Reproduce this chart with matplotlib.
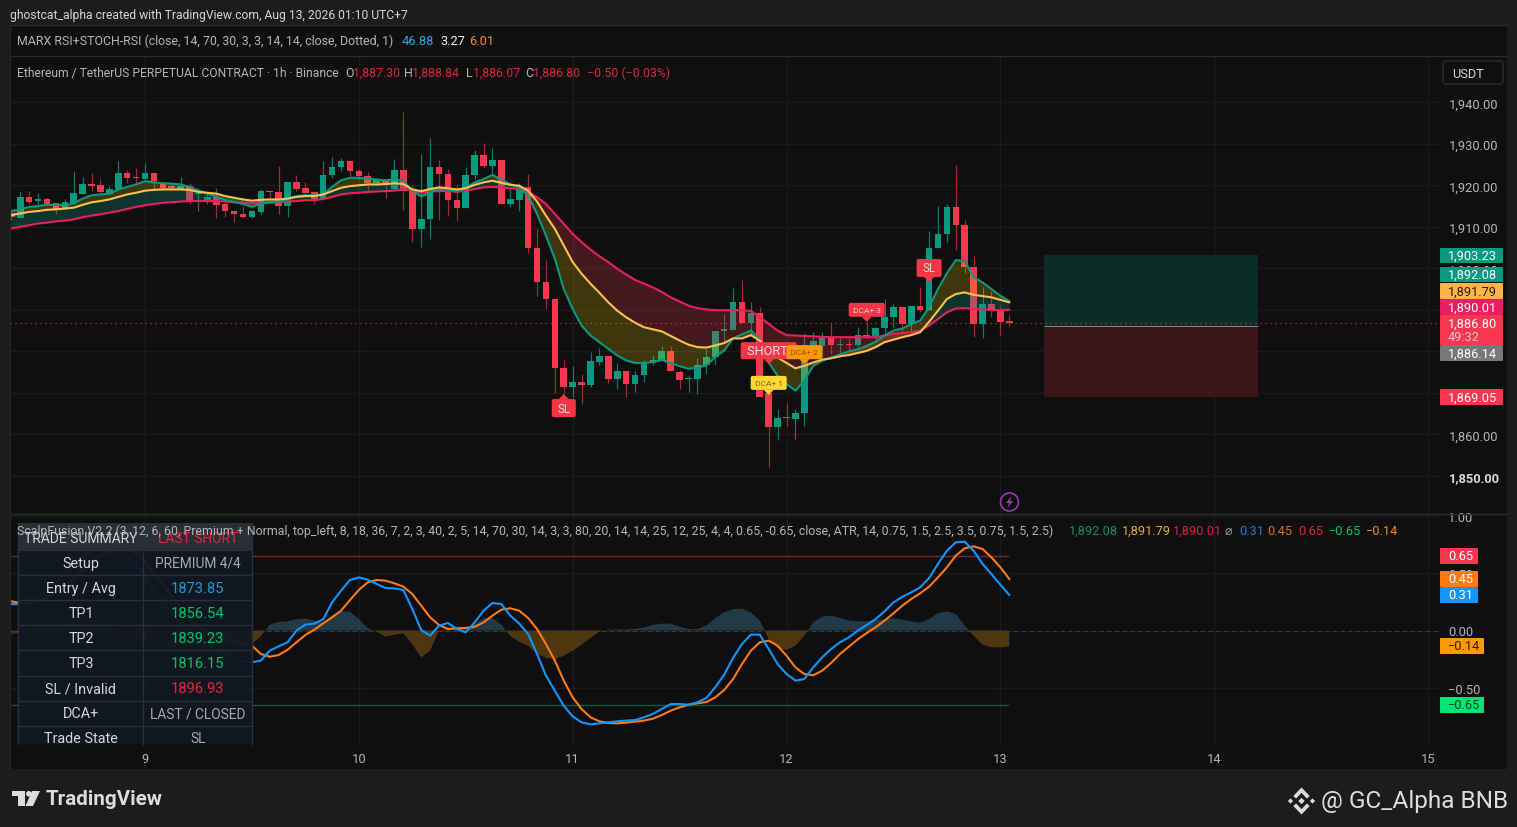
import matplotlib
matplotlib.use('Agg')
import matplotlib.pyplot as plt
from matplotlib.patches import Rectangle, Polygon, Circle, FancyBboxPatch
import numpy as np

plt.rcParams['font.family'] = ['Roboto', 'DejaVu Sans']

# hourly candles, first one is 15 hours before the "9" tick
opens = [1913.4, 1912.2, 1917.2, 1916.1, 1916.7, 1915.7, 1914.6, 1915.7, 1918.0, 1920.4,
         1920.0, 1918.0, 1919.0, 1923.0, 1922.0, 1921.5, 1923.0, 1920.4, 1919.8, 1919.2,
         1919.8, 1918.0, 1916.4, 1917.2, 1915.4, 1913.9, 1913.0, 1912.3, 1913.6, 1918.6,
         1918.4, 1914.9, 1920.9, 1919.4, 1918.4, 1916.8, 1922.6, 1924.3, 1925.8, 1923.4,
         1922.2, 1920.6, 1921.2, 1919.2, 1923.8, 1919.0, 1909.5, 1911.9, 1924.5, 1922.8,
         1916.4, 1914.6, 1922.5, 1927.2, 1924.6, 1926.0, 1915.4, 1916.5, 1919.5, 1904.9,
         1896.6, 1892.6, 1875.9, 1871.3, 1872.7, 1871.8, 1877.4, 1878.8, 1873.3, 1875.3,
         1872.2, 1874.2, 1877.2, 1877.8, 1880.1, 1875.1, 1873.3, 1873.3, 1876.8, 1878.6,
         1884.8, 1885.1, 1892.0, 1886.8, 1889.2, 1870.0, 1861.8, 1864.1, 1863.7, 1865.1,
         1881.3, 1881.3, 1883.3, 1881.6, 1881.8, 1881.5, 1883.9, 1883.6, 1885.7, 1888.3,
         1890.7, 1886.6, 1890.8, 1889.9, 1905.0, 1908.2, 1914.7, 1910.4, 1900.2, 1886.6,
         1891.5, 1889.8, 1887.3]
closes = [1912.4, 1917.2, 1916.0, 1916.7, 1915.4, 1914.4, 1916.0, 1918.1, 1920.3, 1919.9,
          1918.4, 1919.2, 1923.0, 1921.8, 1921.8, 1923.0, 1921.0, 1919.4, 1919.4, 1919.8,
          1916.0, 1918.2, 1917.2, 1915.3, 1913.8, 1913.0, 1912.3, 1913.7, 1918.6, 1918.3,
          1914.9, 1920.9, 1919.2, 1918.2, 1916.6, 1922.6, 1924.4, 1925.8, 1923.4, 1922.2,
          1920.6, 1921.2, 1920.0, 1923.8, 1918.7, 1909.5, 1911.9, 1924.5, 1922.8, 1916.4,
          1914.6, 1922.5, 1927.2, 1924.6, 1926.0, 1915.4, 1916.7, 1919.0, 1904.9, 1896.6,
          1892.5, 1875.9, 1871.3, 1872.7, 1871.8, 1877.7, 1878.8, 1873.3, 1875.3, 1872.2,
          1874.2, 1877.2, 1877.8, 1880.1, 1875.2, 1873.2, 1873.5, 1876.8, 1878.6, 1884.8,
          1885.4, 1892.0, 1886.8, 1889.2, 1869.0, 1861.8, 1863.9, 1863.9, 1865.1, 1881.5,
          1882.5, 1883.3, 1881.5, 1881.8, 1881.6, 1883.9, 1883.6, 1885.7, 1888.3, 1890.7,
          1886.6, 1890.8, 1889.9, 1905.0, 1908.2, 1914.7, 1910.4, 1900.2, 1886.6, 1891.5,
          1889.6, 1887.1, 1886.8]
highs = [1914.0, 1918.4, 1918.7, 1918.2, 1917.0, 1915.8, 1916.8, 1923.4, 1922.0, 1923.0,
         1921.6, 1919.8, 1925.8, 1923.8, 1924.2, 1925.4, 1923.0, 1920.6, 1920.4, 1922.0,
         1920.6, 1918.4, 1917.8, 1919.4, 1915.6, 1913.9, 1915.0, 1914.0, 1919.0, 1918.7,
         1924.6, 1920.9, 1922.5, 1920.9, 1918.6, 1925.9, 1926.7, 1926.6, 1926.2, 1924.0,
         1923.2, 1921.8, 1921.4, 1926.4, 1937.6, 1920.0, 1927.6, 1931.3, 1926.1, 1923.9,
         1920.1, 1924.3, 1928.5, 1930.1, 1928.9, 1926.4, 1919.0, 1920.6, 1922.7, 1909.7,
         1902.0, 1892.6, 1877.8, 1876.4, 1874.5, 1879.8, 1880.8, 1878.8, 1877.2, 1875.3,
         1875.2, 1878.0, 1879.0, 1881.2, 1881.2, 1875.4, 1874.2, 1878.4, 1880.6, 1884.8,
         1888.9, 1895.2, 1897.2, 1892.0, 1890.7, 1873.0, 1866.1, 1867.5, 1866.1, 1884.5,
         1884.7, 1884.7, 1886.8, 1883.8, 1883.1, 1885.9, 1887.0, 1885.9, 1892.7, 1891.5,
         1890.7, 1890.8, 1895.4, 1908.9, 1914.9, 1915.5, 1924.8, 1911.6, 1902.9, 1895.5,
         1894.6, 1891.0, 1888.84]
lows = [1911.6, 1912.2, 1915.4, 1915.4, 1915.2, 1913.2, 1914.4, 1915.4, 1918.0, 1918.6,
        1917.9, 1917.9, 1919.0, 1920.6, 1920.6, 1921.5, 1919.0, 1919.2, 1919.0, 1919.0,
        1915.6, 1913.8, 1915.4, 1912.2, 1912.4, 1911.1, 1912.2, 1912.2, 1913.2, 1917.0,
        1913.0, 1912.3, 1918.6, 1917.4, 1915.6, 1916.8, 1921.8, 1923.5, 1921.6, 1921.6,
        1918.4, 1920.0, 1917.0, 1919.2, 1914.1, 1906.4, 1905.1, 1907.0, 1911.7, 1912.5,
        1911.5, 1914.6, 1921.5, 1924.1, 1922.7, 1915.4, 1914.7, 1913.7, 1903.7, 1893.3,
        1890.1, 1870.0, 1869.8, 1869.0, 1867.2, 1871.4, 1876.8, 1872.4, 1871.0, 1869.1,
        1870.3, 1872.5, 1876.6, 1877.8, 1875.2, 1871.0, 1870.3, 1869.7, 1874.6, 1876.6,
        1882.2, 1885.1, 1886.8, 1883.8, 1869.0, 1852.2, 1858.7, 1861.9, 1858.9, 1862.0,
        1879.0, 1878.9, 1879.3, 1879.0, 1879.9, 1880.5, 1883.1, 1882.3, 1884.3, 1885.8,
        1884.6, 1884.6, 1889.4, 1889.9, 1905.0, 1906.4, 1904.5, 1898.8, 1883.5, 1883.2,
        1888.2, 1884.0, 1886.07]

ema_fast = [1913.8, 1914.2, 1914.8, 1915.0, 1915.3, 1915.3, 1915.2, 1915.6, 1916.8, 1917.6,
            1917.8, 1918.0, 1919.0, 1919.6, 1920.2, 1921.0, 1920.7, 1920.5, 1920.4, 1920.2,
            1919.6, 1918.8, 1918.0, 1917.2, 1916.4, 1916.0, 1915.5, 1914.8, 1915.6, 1916.0,
            1916.0, 1916.8, 1917.4, 1917.6, 1917.6, 1917.8, 1919.6, 1921.2, 1921.8, 1921.8,
            1921.6, 1921.4, 1921.2, 1921.4, 1921.1, 1918.7, 1917.3, 1918.3, 1919.1, 1918.9,
            1918.6, 1919.3, 1920.7, 1921.5, 1922.5, 1921.3, 1920.3, 1919.5, 1917.5, 1913.1,
            1907.9, 1902.3, 1895.0, 1890.2, 1886.2, 1883.8, 1882.2, 1880.6, 1879.0, 1877.8,
            1877.2, 1877.2, 1877.4, 1877.9, 1877.2, 1876.4, 1875.8, 1876.1, 1876.6, 1878.6,
            1880.2, 1883.1, 1884.1, 1885.0, 1882.8, 1877.3, 1874.1, 1872.1, 1870.5, 1873.0,
            1876.5, 1877.7, 1878.5, 1879.2, 1880.0, 1880.5, 1881.3, 1882.3, 1883.8, 1885.0,
            1885.5, 1886.6, 1887.4, 1890.6, 1895.0, 1898.8, 1902.0, 1901.7, 1897.8, 1896.6,
            1895.0, 1893.4, 1892.08]
ema_mid = [1912.8, 1913.2, 1913.6, 1913.8, 1914.1, 1914.2, 1914.4, 1914.6, 1915.3, 1915.9,
           1916.2, 1916.6, 1917.2, 1917.8, 1918.2, 1918.7, 1918.9, 1919.0, 1919.0, 1919.0,
           1918.9, 1918.4, 1918.2, 1918.0, 1917.4, 1917.0, 1916.6, 1916.3, 1916.5, 1916.6,
           1916.6, 1916.8, 1917.2, 1917.4, 1917.4, 1917.8, 1918.6, 1919.4, 1919.8, 1920.0,
           1920.2, 1920.2, 1920.3, 1920.5, 1920.3, 1919.0, 1918.6, 1919.1, 1919.5, 1919.3,
           1919.0, 1919.3, 1920.1, 1920.7, 1921.1, 1920.6, 1920.1, 1919.9, 1918.7, 1916.1,
           1912.7, 1909.5, 1905.5, 1901.5, 1898.7, 1896.3, 1894.1, 1891.8, 1889.8, 1888.2,
           1886.9, 1885.8, 1885.3, 1884.8, 1883.7, 1882.6, 1881.6, 1881.0, 1880.9, 1881.4,
           1882.0, 1883.1, 1883.1, 1883.9, 1882.6, 1879.7, 1878.5, 1877.2, 1875.9, 1876.5,
           1877.3, 1878.0, 1878.3, 1878.8, 1879.1, 1879.6, 1880.1, 1881.0, 1882.2, 1882.8,
           1883.4, 1883.9, 1884.6, 1887.1, 1889.8, 1892.6, 1893.8, 1894.2, 1893.6, 1893.3,
           1893.0, 1892.4, 1891.79]
ema_slow = [1909.6, 1910.0, 1910.4, 1910.8, 1911.0, 1911.3, 1911.5, 1911.8, 1912.3, 1912.7,
            1913.0, 1913.4, 1913.8, 1914.3, 1914.8, 1915.2, 1915.5, 1915.8, 1915.9, 1916.1,
            1916.2, 1916.2, 1916.2, 1916.2, 1916.1, 1915.9, 1915.8, 1915.6, 1915.7, 1915.8,
            1916.0, 1916.1, 1916.2, 1916.4, 1916.4, 1916.7, 1917.2, 1917.8, 1918.1, 1918.2,
            1918.4, 1918.5, 1918.6, 1918.7, 1919.1, 1918.7, 1918.3, 1918.5, 1918.6, 1918.6,
            1918.4, 1918.7, 1919.1, 1919.5, 1919.6, 1919.5, 1919.3, 1919.1, 1918.5, 1917.1,
            1915.5, 1913.1, 1910.7, 1908.3, 1906.3, 1904.5, 1902.9, 1901.5, 1899.9, 1898.5,
            1897.2, 1896.3, 1895.4, 1894.3, 1893.0, 1892.0, 1891.0, 1890.4, 1890.1, 1889.9,
            1889.9, 1889.9, 1889.9, 1889.7, 1888.2, 1886.6, 1885.0, 1883.9, 1883.8, 1883.7,
            1883.6, 1883.5, 1883.4, 1883.4, 1883.4, 1883.4, 1883.4, 1883.4, 1883.8, 1884.2,
            1884.4, 1884.6, 1885.0, 1886.2, 1887.8, 1889.4, 1890.3, 1890.4, 1890.2, 1890.1,
            1890.0, 1889.9, 1890.01]

# oscillator pane (values for the first 28 hours sit behind the table, rough guess)
osc_blue = [0.23, 0.23, 0.26, 0.30, 0.35, 0.42, 0.50, 0.58, 0.65, 0.70,
            0.72, 0.72, 0.70, 0.65, 0.58, 0.48, 0.35, 0.25, 0.15, 0.05,
            -0.03, -0.08, -0.12, -0.16, -0.20, -0.24, -0.27, -0.278,
            -0.263, -0.176, -0.138, -0.103, -0.001, 0.051, 0.06, 0.098, 0.246, 0.348,
            0.441, 0.464, 0.444, 0.406, 0.371, 0.368, 0.354, 0.188, 0.004, -0.045,
            0.042, 0.066, 0.013, -0.016, 0.071, 0.173, 0.24, 0.231, 0.13, 0.06,
            -0.03, -0.205, -0.394, -0.526, -0.657, -0.75, -0.802, -0.82, -0.811, -0.802,
            -0.793, -0.787, -0.782, -0.758, -0.729, -0.686, -0.642, -0.642, -0.648, -0.627,
            -0.589, -0.496, -0.386, -0.24, -0.118, -0.036, -0.036, -0.162, -0.293, -0.38,
            -0.438, -0.424, -0.322, -0.234, -0.162, -0.103, -0.06, -0.001, 0.048, 0.1,
            0.167, 0.246, 0.295, 0.333, 0.377, 0.458, 0.581, 0.697, 0.77, 0.776,
            0.697, 0.581, 0.493, 0.4, 0.31]
osc_orange = [0.255, 0.24, 0.24, 0.26, 0.29, 0.33, 0.39, 0.46, 0.53, 0.60,
              0.65, 0.69, 0.71, 0.71, 0.67, 0.60, 0.50, 0.40, 0.30, 0.20,
              0.10, 0.03, -0.02, -0.05, -0.08, -0.10, -0.12, -0.133,
              -0.205, -0.229, -0.214, -0.168, -0.103, -0.039, 0.007, 0.063, 0.115, 0.173,
              0.266, 0.354, 0.421, 0.441, 0.435, 0.412, 0.383, 0.319, 0.217, 0.115,
              0.048, 0.013, 0.019, 0.022, 0.033, 0.071, 0.13, 0.182, 0.194, 0.173,
              0.109, 0.013, -0.118, -0.263, -0.438, -0.584, -0.686, -0.758, -0.793, -0.808,
              -0.811, -0.805, -0.796, -0.787, -0.77, -0.738, -0.7, -0.671, -0.648, -0.636,
              -0.625, -0.584, -0.52, -0.424, -0.293, -0.176, -0.103, -0.089, -0.133, -0.22,
              -0.322, -0.38, -0.391, -0.351, -0.284, -0.205, -0.141, -0.077, -0.022, 0.028,
              0.086, 0.15, 0.217, 0.275, 0.325, 0.383, 0.464, 0.552, 0.654, 0.718,
              0.735, 0.712, 0.639, 0.552, 0.45]
osc_hist = [-0.03, -0.02, 0.02, 0.04, 0.06, 0.09, 0.11, 0.12, 0.12, 0.10,
            0.07, 0.03, -0.01, -0.06, -0.09, -0.12, -0.15, -0.15, -0.15, -0.15,
            -0.13, -0.11, -0.10, -0.11, -0.12, -0.14, -0.14, -0.12,
            -0.05, 0.05, 0.075, 0.08, 0.098, 0.105, 0.085, 0.07, 0.135, 0.165,
            0.165, 0.1, 0.02, -0.01, -0.054, -0.036, -0.025, -0.12, -0.235, -0.176,
            0.0, 0.01, 0.015, 0.027, 0.05, 0.11, 0.11, 0.05, -0.05, -0.1,
            -0.133, -0.205, -0.24, -0.249, -0.22, -0.176, -0.124, -0.066, -0.008, 0.007,
            0.01, 0.01, 0.013, 0.027, 0.048, 0.06, 0.06, 0.033, 0.013, 0.013,
            0.042, 0.109, 0.158, 0.187, 0.19, 0.158, 0.086, -0.074, -0.147, -0.17,
            -0.133, -0.045, 0.071, 0.121, 0.13, 0.109, 0.086, 0.08, 0.08, 0.091,
            0.1, 0.106, 0.095, 0.08, 0.068, 0.1, 0.153, 0.167, 0.144, 0.042,
            -0.045, -0.124, -0.147, -0.147, -0.14]

day_labels = ['9', '10', '11', '12', '13', '14', '15']
price_ticks = [1850, 1860, 1870, 1880, 1890, 1900, 1910, 1920, 1930, 1940]
osc_ticks = [1.0, 0.5, 0.0, -0.5]
osc_tick_labels = ['1.00', '0.50', '0.00', '\u22120.50']

last_price = 1886.80
entry_price = 1886.14
target_price = 1903.23
stop_price = 1869.05
box_hours = [100.95, 124.95]
osc_upper = 0.65
osc_lower = -0.65

# signal labels on the chart
signal_texts = ['SL', 'SL', 'SHORT \u2605', 'DCA+ 1', 'DCA+ 2', 'DCA+ 3']
signal_hours = [47, 88, 70, 70, 74, 81]
signal_prices = [1869.7, 1896.7, 1876.9, 1869.5, 1876.9, 1887.1]

# table rows
table_labels = ['Setup', 'Entry / Avg', 'TP1', 'TP2', 'TP3', 'SL / Invalid', 'DCA+', 'Trade State']
table_values = ['PREMIUM 4/4', '1873.85', '1856.54', '1839.23', '1816.15', '1896.93', 'LAST / CLOSED', 'SL']
table_colors = ['#a6a9b0', '#1f9ad6', '#00c46a', '#00c46a', '#00c46a', '#e0263c', '#a6a9b0', '#a6a9b0']

BG = '#0f0f0f'
FRAME = '#1c1c1c'
SEP = '#2c2c2c'
GRID = '#1b1b1b'
TEXT = '#b4b5b8'
UP = '#089981'
DOWN = '#f7374f'
W, H = 1517, 828

hours = np.arange(-15, -15 + len(opens))
o, c, hi, lo = map(np.array, (opens, closes, highs, lows))
fast, mid, slow = map(np.array, (ema_fast, ema_mid, ema_slow))

fig = plt.figure(figsize=(W / 100, H / 100), dpi=100, facecolor=FRAME)


def pane(x0, x1, y_top, y_bottom, z):
    return fig.add_axes([x0 / W, 1 - y_bottom / H, (x1 - x0) / W, (y_bottom - y_top) / H],
                        facecolor=BG, zorder=z)


# panel background incl. right scale
back = pane(10, 1507, 26, 770, 0)
back.set_xticks([])
back.set_yticks([])
for s in back.spines.values():
    s.set_visible(False)

px_per_hour = 8.91
x_lim = ((10 - 145) / px_per_hour, (1440 - 145) / px_per_hour)
day_ticks = [24 * i for i in range(len(day_labels))]
box_span = [(b - x_lim[0]) / (x_lim[1] - x_lim[0]) for b in box_hours]

# price pane
ax = pane(10, 1440, 58, 515, 2)
ax.set_xlim(x_lim)
ax.set_ylim(1940 - 411.7 / 4.15, 1940 + 45.3 / 4.15)
ax.grid(True, color=GRID, lw=1)
ax.set_axisbelow(True)
ax.set_xticks(day_ticks)
ax.set_xticklabels([])
ax.set_yticks(price_ticks)
ax.set_yticklabels([f'{p:,.2f}' for p in price_ticks])
ax.yaxis.tick_right()
ax.tick_params(length=0, colors=TEXT, labelsize=9.3, pad=6.5)
for t in ax.get_yticklabels():
    t.set_verticalalignment('center_baseline')
ax.get_yticklabels()[0].set_color('#d8d9dc')
ax.get_yticklabels()[0].set_fontweight('bold')
for s in ax.spines.values():
    s.set_visible(False)

ax.axhspan(entry_price, target_price, xmin=box_span[0], xmax=box_span[1], color='#0e2c27', lw=0, zorder=1)
ax.axhspan(stop_price, entry_price, xmin=box_span[0], xmax=box_span[1], color='#3a1519', lw=0, zorder=1)
ax.hlines(entry_price, box_hours[0], box_hours[1], color='#8a8a8a', lw=0.7, zorder=1.5)
ax.axhline(last_price, color=DOWN, lw=0.9, ls=(0, (1, 3)), alpha=0.8, zorder=1.6)

is_up = c >= o
wick_colors = np.where(is_up, '#0b7f6d', '#a32a3c')
ax.vlines(hours, lo, hi, colors=wick_colors, lw=0.85, zorder=2)
ax.bar(hours, np.abs(c - o), bottom=np.minimum(o, c), width=0.74,
       color=np.where(is_up, UP, DOWN), lw=0, zorder=2.2)

ax.fill_between(hours, fast, mid, color='#ffd600', alpha=0.2, lw=0, zorder=3)
ax.fill_between(hours, mid, slow, where=mid >= slow, interpolate=True, color='#089981', alpha=0.28, lw=0, zorder=3)
ax.fill_between(hours, mid, slow, where=mid <= slow, interpolate=True, color='#f23645', alpha=0.24, lw=0, zorder=3)
ax.plot(hours, slow, color='#e91e63', lw=1.5, zorder=4)
ax.plot(hours, fast, color='#089981', lw=1.5, zorder=4)
ax.plot(hours, mid, color='#fbc04e', lw=1.5, zorder=4)

# oscillator pane
ax2 = pane(10, 1440, 516, 745, 1)
ax2.set_xlim(x_lim)
ax2.set_ylim(-113.5 / 114.5, 115.5 / 114.5)
ax2.grid(True, color=GRID, lw=1)
ax2.set_axisbelow(True)
ax2.set_xticks(day_ticks)
ax2.set_xticklabels(day_labels)
ax2.set_yticks(osc_ticks)
ax2.set_yticklabels(osc_tick_labels)
ax2.yaxis.tick_right()
ax2.tick_params(length=0, colors=TEXT, labelsize=9.3)
ax2.tick_params(axis='y', pad=6)
ax2.tick_params(axis='x', pad=5.5)
for s in ax2.spines.values():
    s.set_visible(False)

hist = np.array(osc_hist)
ax2.fill_between(hours, 0, hist, where=hist >= 0, interpolate=True, color='#2b4a5e', alpha=0.72, lw=0)
ax2.fill_between(hours, 0, hist, where=hist <= 0, interpolate=True, color='#5a3d12', alpha=0.85, lw=0)
ax2.axhline(0, color='#3a3a3a', lw=0.8, ls=(0, (4, 3)))
ax2.hlines(osc_upper, hours[0], hours[-1], color='#7a2430', lw=1)
ax2.hlines(osc_lower, hours[0], hours[-1], color='#12583f', lw=1)
ax2.plot(hours, osc_orange, color='#ff7a10', lw=1.5)
ax2.plot(hours, osc_blue, color='#1196ff', lw=1.5)

# overlay in picture pixels: legends, table, price boxes, logos
ov = fig.add_axes([0, 0, 1, 1], facecolor='none', zorder=10)
ov.set_xlim(0, W)
ov.set_ylim(H, 0)
ov.axis('off')


def label(x, y, s, color=TEXT, size=9.2, ha='left', **kw):
    ov.text(x, y + 0.7, s, color=color, fontsize=size, ha=ha, va='center', **kw)


def price_box(y0, y1, x1, s, color, tcolor='#ffffff', x0=1440):
    ov.add_patch(FancyBboxPatch((x0 + 1, y0 + 1), x1 - x0 - 2, y1 - y0 - 2, boxstyle='round,pad=1,rounding_size=1',
                                fc=color, ec='none'))
    if s:
        label(x0 + 8, (y0 + y1) / 2 - 0.7, s, tcolor)


# boxes keep to the tip of each signal, taken through the price pane's scale
signal_fill = ['#f23645', '#f23645', '#f23645', '#ffd633', '#ff9800', '#f23645']
signal_ink = ['#ffd9dd', '#ffd9dd', '#ffe3e6', '#7a6a20', '#8a5a10', '#ffc9cf']
signal_size = [8.4, 8.4, 9.2, 6.0, 6.0, 6.0]
signal_box = [(24, 18, 1), (25, 18, -1), (56, 17, -1), (36, 14, -1), (36, 14, -1), (36, 14, -1)]
for z, (txt, h, p, col, ink, size, (bw, bh, side)) in enumerate(zip(signal_texts, signal_hours, signal_prices, signal_fill,
                                                                    signal_ink, signal_size, signal_box)):
    tx, ty = ax.transData.transform((h, p))
    ty = H - ty
    near = ty + side * 5  # edge of the box nearest the tip
    top = near if side > 0 else near - bh
    ov.add_patch(Polygon([(tx - 5, near), (tx + 5, near), (tx, ty)], fc=col, ec='none', zorder=1 + z * 0.01))
    ov.add_patch(FancyBboxPatch((tx - bw / 2 + 1.5, top + 1.5), bw - 3, bh - 3, boxstyle='round,pad=1.5,rounding_size=2',
                                fc=col, ec='none', zorder=1 + z * 0.01))
    if txt.startswith('SHORT'):
        ov.text(tx - bw / 2 + 6, top + bh / 2, txt, color=ink, fontsize=size, ha='left', va='center', zorder=1.001 + z * 0.01)
    else:
        ov.text(tx, top + bh / 2, txt, color=ink, fontsize=size, ha='center', va='center', zorder=1.001 + z * 0.01)

for y in (57, 515):
    ov.plot([10, 1507], [y, y], color=SEP, lw=1)
ov.plot([10, 1507], [26, 26], color=SEP, lw=1)
ov.plot([10, 10], [26, 770], color='#242424', lw=0.8)

label(10, 15, 'ghostcat_alpha created with TradingView.com, Aug 13, 2026 01:10 UTC+7', '#d6d6d6', size=8.7)
label(17, 41, 'MARX RSI+STOCH-RSI (close, 14, 70, 30, 3, 3, 14, 14, close, Dotted, 1)', size=8.95)
label(402, 41, '46.88', '#2aa8f0')
label(440, 41, '3.27', '#eeeeee')
label(469, 41, '6.01', '#f28c1e')
label(17, 73, 'Ethereum / TetherUS PERPETUAL CONTRACT \u00b7 1h \u00b7 Binance', size=8.72)
for x, s in zip((345, 404, 466.5, 525), 'OHLC'):
    label(x, 73, s, size=8.9)
for x, s in zip((353.5, 412.5, 473, 533, 587),
                ('1,887.30', '1,888.84', '1,886.07', '1,886.80', '\u22120.50 (\u22120.03%)')):
    label(x, 73, s, '#d9263c', size=8.9)

ov.add_patch(FancyBboxPatch((1444, 63), 58, 21, boxstyle='round,pad=1,rounding_size=3', fc=BG, ec=SEP, lw=1))
label(1452, 74, 'USDT', '#d6d6d6')

price_box(249, 264, 1503, '1,903.23', UP)
price_box(268, 283, 1503, '1,892.08', UP)
price_box(284, 300, 1503, '1,891.79', '#fdb447', '#2a1c00')
price_box(300, 316, 1503, '1,890.01', '#e91e63')
price_box(316, 346, 1503, '', DOWN)
label(1448, 324, '1,886.80', '#ffffff')
label(1448, 337, '49:32', '#ffc4cb')
price_box(346, 362, 1503, '1,886.14', '#787878')
price_box(390, 406, 1503, '1,869.05', DOWN)

price_box(549, 565, 1478, '0.65', DOWN)
price_box(572, 588, 1478, '0.45', '#ff7a10')
price_box(588, 604, 1478, '0.31', '#1196ff')
price_box(639, 655, 1484, '\u22120.14', '#ff9800', '#2a1c00')
price_box(698, 714, 1484, '\u22120.65', '#00e676', '#063a20')

# table, cut off by the pane bottom
ov.add_patch(Rectangle((18.5, 524), 233.5, 221, fc='#121822', ec='none', alpha=0.96))
ov.add_patch(Rectangle((18.5, 524), 233.5, 27, fc='#2b2f38', ec='none', alpha=0.97))
for i in range(8):
    ov.plot([18.5, 252], [551 + 25.1 * i] * 2, color='#2a303b', lw=1)
ov.plot([18.5, 18.5], [524, 745], color='#2a303b', lw=1)
ov.plot([143.5, 143.5], [524, 745], color='#2a303b', lw=1)
ov.plot([252, 252], [524, 745], color='#2a303b', lw=1)
label(81, 538, 'TRADE SUMMARY', '#d6d6d6', size=10, ha='center')
label(198, 538, 'LAST SHORT', '#e0263c', size=10, ha='center')
for i, (name, val, col) in enumerate(zip(table_labels, table_values, table_colors)):
    y = 563 + 25.1 * i
    label(81, y, name, '#d6d6d6', size=10.4, ha='center')
    label(198, y, val, col, size=10.6 if val[0].isdigit() else 9.9, ha='center')

label(17, 531, 'ScalpFusion V2.2 (3, 12, 6, 60, Premium + Normal, top_left, 8, 18, 36, 7, 2, 3, 40, 2, 5, 14, 70, 30, '
               '14, 3, 3, 80, 20, 14, 14, 25, 12, 25, 4, 4, 0.65, -0.65, close, ATR, 14, 0.75, 1.5, 2.5, 3.5, 0.75, 1.5, 2.5)',
      size=8.92)
for x, s, col in zip((1069, 1122, 1173, 1225, 1239, 1267, 1298, 1329, 1366),
                     ('1,892.08', '1,891.79', '1,890.01', '\u2300', '0.31', '0.45', '0.65', '\u22120.65', '\u22120.14'),
                     ('#0b8f78', '#e8a93c', '#d6204f', '#9a9a9a', '#0d84e0', '#e86a10', '#d9263c', '#00c46a', '#f58a0a')):
    label(x, 531, s, col)

# lightning badge
ov.add_patch(Circle((1009.5, 503), 9, fc='none', ec='#9c39b0', lw=1.2))
ov.add_patch(Polygon([(1011.5, 497), (1006, 504), (1009, 504), (1007.5, 509), (1013, 502), (1010, 502)], fc='#9c39b0', ec='none'))

# TradingView mark
tv = '#dcdcdc'
ov.add_patch(Polygon([(12, 792), (25, 792), (25, 807), (18, 807), (18, 797), (12, 797)], fc=tv, ec='none'))
ov.add_patch(Circle((28.8, 794.8), 2.8, fc=tv, ec='none'))
ov.add_patch(Polygon([(32, 792), (40, 792), (33, 807), (25.5, 807)], fc=tv, ec='none'))
label(46, 799, 'TradingView', tv, size=14.9, fontweight='bold')

# Binance mark
cx, cy = 1301.5, 802
for dx, dy, r in ((0, 0, 3.2), (-11, 0, 2.6), (11, 0, 2.6)):
    ov.add_patch(Polygon([(cx + dx - r, cy + dy), (cx + dx, cy + dy - r), (cx + dx + r, cy + dy), (cx + dx, cy + dy + r)],
                         fc='#dcdcdc', ec='none'))
for sgn in (-1, 1):
    ov.add_patch(Polygon([(cx - 8.2, cy + sgn * 5), (cx, cy + sgn * 13.5), (cx + 8.2, cy + sgn * 5), (cx + 5.4, cy + sgn * 2.4),
                          (cx, cy + sgn * 8.2), (cx - 5.4, cy + sgn * 2.4)], fc='#dcdcdc', ec='none'))
label(1321, 801, '@ GC_Alpha BNB', '#dcdcdc', size=17.6)

fig.savefig('out.png', dpi=100, facecolor=FRAME)
